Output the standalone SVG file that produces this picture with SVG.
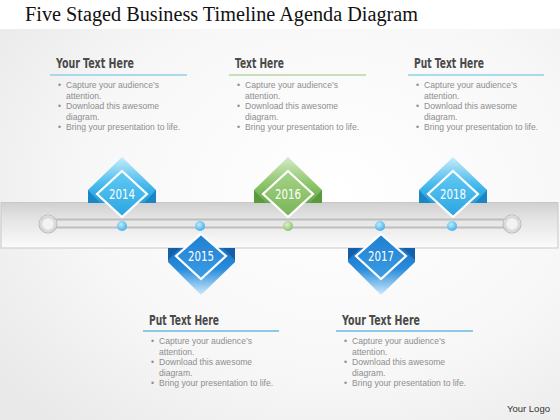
<svg xmlns="http://www.w3.org/2000/svg" width="560" height="420" viewBox="0 0 560 420">
<defs>
<radialGradient id="bg" cx="0.6" cy="0.45" r="0.75">
<stop offset="0" stop-color="#ffffff"/><stop offset="0.6" stop-color="#f7f7f7"/><stop offset="1" stop-color="#e9e9e9"/>
</radialGradient>
<linearGradient id="band" x1="0" y1="0" x2="0" y2="1">
<stop offset="0" stop-color="#d0d0d0"/><stop offset="0.35" stop-color="#e4e4e4"/><stop offset="1" stop-color="#fbfbfb"/>
</linearGradient>
<linearGradient id="upB" x1="0" y1="0" x2="0" y2="1">
<stop offset="0" stop-color="#c8ecfb"/><stop offset="0.6" stop-color="#46baec"/><stop offset="1" stop-color="#1f9fdc"/>
</linearGradient>
<linearGradient id="upBi" x1="0" y1="0" x2="0" y2="1">
<stop offset="0" stop-color="#62cbf4"/><stop offset="1" stop-color="#2aa4e2"/>
</linearGradient>
<linearGradient id="upG" x1="0" y1="0" x2="0" y2="1">
<stop offset="0" stop-color="#d4ebc4"/><stop offset="0.6" stop-color="#8cc46a"/><stop offset="1" stop-color="#6aa84a"/>
</linearGradient>
<linearGradient id="upGi" x1="0" y1="0" x2="0" y2="1">
<stop offset="0" stop-color="#a6d488"/><stop offset="1" stop-color="#78b456"/>
</linearGradient>
<linearGradient id="dnB" x1="0" y1="0" x2="0" y2="1">
<stop offset="0" stop-color="#1a72c4"/><stop offset="0.45" stop-color="#2a8ddc"/><stop offset="1" stop-color="#cfeafb"/>
</linearGradient>
<linearGradient id="dnBi" x1="0" y1="0" x2="0" y2="1">
<stop offset="0" stop-color="#1f7fd0"/><stop offset="1" stop-color="#3b9ce6"/>
</linearGradient>
<radialGradient id="dotB" cx="0.4" cy="0.35" r="0.7">
<stop offset="0" stop-color="#bfeafc"/><stop offset="1" stop-color="#3aaee6"/>
</radialGradient>
<radialGradient id="dotG" cx="0.4" cy="0.35" r="0.7">
<stop offset="0" stop-color="#dff0cf"/><stop offset="1" stop-color="#86bf62"/>
</radialGradient>
<radialGradient id="knob" cx="0.5" cy="0.5" r="0.5">
<stop offset="0.55" stop-color="#f2f2f2"/><stop offset="0.8" stop-color="#cfcfcf"/><stop offset="1" stop-color="#ffffff"/>
</radialGradient>
</defs>
<style>
.title{font-family:"Liberation Serif","DejaVu Serif",serif;font-size:20px;fill:#111}
.head{font-family:"DejaVu Sans Condensed","DejaVu Sans",sans-serif;font-weight:bold;font-size:14px;fill:#4a4a4a}
.body{font-family:"Liberation Sans",Arial,sans-serif;font-size:8.6px;fill:#8e8e8e}
.year{font-family:"DejaVu Sans Condensed","DejaVu Sans",sans-serif;font-size:14px;fill:#ffffff;text-anchor:middle}
.inner{stroke:#ffffff;stroke-width:2.2}
.logo{font-family:"Liberation Sans",Arial,sans-serif;font-size:9.5px;fill:#333}
</style>
<rect width="560" height="420" fill="url(#bg)"/>
<rect width="560" height="29" fill="#ffffff"/>
<text class="title" x="25" y="21" textLength="393" lengthAdjust="spacingAndGlyphs">Five Staged Business Timeline Agenda Diagram</text>

<g id="band-bar">
<rect x="1" y="202.5" width="557" height="45.5" fill="url(#band)" stroke="#c8c8c8" stroke-width="1"/>
</g>

<g id="connectors">
<line x1="50" y1="219.5" x2="510" y2="219.5" stroke="#bdbdbd" stroke-width="2"/>
<line x1="50" y1="223.5" x2="510" y2="223.5" stroke="#e8e8e8" stroke-width="4"/>
<line x1="50" y1="227.5" x2="510" y2="227.5" stroke="#bdbdbd" stroke-width="2"/>
<circle cx="48" cy="224" r="9" fill="url(#knob)" stroke="#bdbdbd" stroke-width="1.2"/>
<circle cx="512" cy="224" r="9" fill="url(#knob)" stroke="#bdbdbd" stroke-width="1.2"/>
<circle cx="122" cy="226" r="5" fill="url(#dotB)"/>
<circle cx="200" cy="226" r="5" fill="url(#dotB)"/>
<circle cx="288" cy="226" r="5" fill="url(#dotG)"/>
<circle cx="380" cy="226" r="5" fill="url(#dotB)"/>
<circle cx="452" cy="226" r="5" fill="url(#dotB)"/>
</g>

<g id="node-2014">
<polygon points="122,157 156,190 156,203 88,203 88,190" fill="url(#upB)"/>
<polygon points="88,190 100,203 88,203" fill="#1a86c6"/>
<polygon points="156,190 144,203 156,203" fill="#1a86c6"/>
<polygon class="inner" points="122,171 147,194 122,217 97,194" fill="url(#upBi)"/>
<text class="year" x="122" y="199" textLength="26" lengthAdjust="spacingAndGlyphs">2014</text>
</g>

<g id="node-2016">
<polygon points="288,157 322,190 322,203 254,203 254,190" fill="url(#upG)"/>
<polygon points="254,190 266,203 254,203" fill="#5b9a3c"/>
<polygon points="322,190 310,203 322,203" fill="#5b9a3c"/>
<polygon class="inner" points="288,171 313,194 288,217 263,194" fill="url(#upGi)"/>
<text class="year" x="288" y="199" textLength="26" lengthAdjust="spacingAndGlyphs">2016</text>
</g>

<g id="node-2018">
<polygon points="453,157 487,190 487,203 419,203 419,190" fill="url(#upB)"/>
<polygon points="419,190 431,203 419,203" fill="#1a86c6"/>
<polygon points="487,190 475,203 487,203" fill="#1a86c6"/>
<polygon class="inner" points="453,171 478,194 453,217 428,194" fill="url(#upBi)"/>
<text class="year" x="453" y="199" textLength="26" lengthAdjust="spacingAndGlyphs">2018</text>
</g>

<g id="node-2015">
<polygon points="168,248 235,248 235,262 201,295 168,262" fill="url(#dnB)"/>
<polygon points="168,248 180,248 168,260" fill="#155fa8"/>
<polygon points="235,248 223,248 235,260" fill="#155fa8"/>
<polygon class="inner" points="201,234 226,256 201,279 176,256" fill="url(#dnBi)"/>
<text class="year" x="201" y="261" textLength="26" lengthAdjust="spacingAndGlyphs">2015</text>
</g>

<g id="node-2017">
<polygon points="348,248 415,248 415,262 381,295 348,262" fill="url(#dnB)"/>
<polygon points="348,248 360,248 348,260" fill="#155fa8"/>
<polygon points="415,248 403,248 415,260" fill="#155fa8"/>
<polygon class="inner" points="381,234 406,256 381,279 356,256" fill="url(#dnBi)"/>
<text class="year" x="381" y="261" textLength="26" lengthAdjust="spacingAndGlyphs">2017</text>
</g>

<g id="text-1">
<text class="head" x="56" y="68" textLength="78" lengthAdjust="spacingAndGlyphs">Your Text Here</text>
<line x1="50" y1="75" x2="187" y2="75" stroke="#8fd0e8" stroke-width="1.6"/>
<text class="body"><tspan x="58" y="88">•</tspan><tspan x="66" y="88">Capture your audience’s</tspan><tspan x="66" y="98.5">attention.</tspan><tspan x="58" y="109">•</tspan><tspan x="66" y="109">Download this awesome</tspan><tspan x="66" y="119.5">diagram.</tspan><tspan x="58" y="130">•</tspan><tspan x="66" y="130">Bring your presentation to life.</tspan></text>
</g>

<g id="text-2">
<text class="head" x="235" y="68" textLength="49" lengthAdjust="spacingAndGlyphs">Text Here</text>
<line x1="229" y1="75" x2="366" y2="75" stroke="#b9d6a6" stroke-width="1.6"/>
<text class="body"><tspan x="237" y="88">•</tspan><tspan x="245" y="88">Capture your audience’s</tspan><tspan x="245" y="98.5">attention.</tspan><tspan x="237" y="109">•</tspan><tspan x="245" y="109">Download this awesome</tspan><tspan x="245" y="119.5">diagram.</tspan><tspan x="237" y="130">•</tspan><tspan x="245" y="130">Bring your presentation to life.</tspan></text>
</g>

<g id="text-3">
<text class="head" x="414" y="68" textLength="70" lengthAdjust="spacingAndGlyphs">Put Text Here</text>
<line x1="408" y1="75" x2="544" y2="75" stroke="#8fd0e8" stroke-width="1.6"/>
<text class="body"><tspan x="416" y="88">•</tspan><tspan x="424" y="88">Capture your audience’s</tspan><tspan x="424" y="98.5">attention.</tspan><tspan x="416" y="109">•</tspan><tspan x="424" y="109">Download this awesome</tspan><tspan x="424" y="119.5">diagram.</tspan><tspan x="416" y="130">•</tspan><tspan x="424" y="130">Bring your presentation to life.</tspan></text>
</g>

<g id="text-4">
<text class="head" x="149" y="325" textLength="70" lengthAdjust="spacingAndGlyphs">Put Text Here</text>
<line x1="143" y1="331" x2="279" y2="331" stroke="#6ab8e0" stroke-width="1.6"/>
<text class="body"><tspan x="151" y="344">•</tspan><tspan x="159" y="344">Capture your audience’s</tspan><tspan x="159" y="354.5">attention.</tspan><tspan x="151" y="365">•</tspan><tspan x="159" y="365">Download this awesome</tspan><tspan x="159" y="375.5">diagram.</tspan><tspan x="151" y="386">•</tspan><tspan x="159" y="386">Bring your presentation to life.</tspan></text>
</g>

<g id="text-5">
<text class="head" x="342" y="325" textLength="78" lengthAdjust="spacingAndGlyphs">Your Text Here</text>
<line x1="336" y1="331" x2="473" y2="331" stroke="#6ab8e0" stroke-width="1.6"/>
<text class="body"><tspan x="344" y="344">•</tspan><tspan x="352" y="344">Capture your audience’s</tspan><tspan x="352" y="354.5">attention.</tspan><tspan x="344" y="365">•</tspan><tspan x="352" y="365">Download this awesome</tspan><tspan x="352" y="375.5">diagram.</tspan><tspan x="344" y="386">•</tspan><tspan x="352" y="386">Bring your presentation to life.</tspan></text>
</g>

<text class="logo" x="507" y="412">Your Logo</text>
</svg>
